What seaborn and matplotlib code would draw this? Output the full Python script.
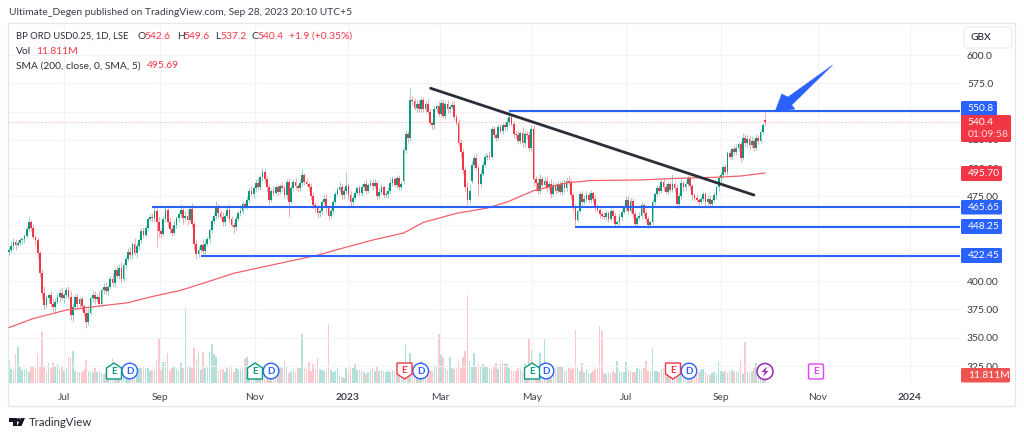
import matplotlib
matplotlib.use("Agg")
import matplotlib.pyplot as plt
import numpy as np
import pandas as pd
import seaborn as sns
from matplotlib.patches import FancyBboxPatch, Polygon, Circle, Rectangle
from matplotlib.transforms import Affine2D

# ---------- data ----------
closes = [
 428,431,435,432,434,436,437,440,446,452, 447,439,436,425,407,390,379,385,388,380,
 377,382,386,390,385,388,392,386,370,377, 386,380,384,378,372,364,372,385,388,384,
 386,380,392,395,391,395,402,398,410,405, 412,402,414,420,426,423,433,425,431,436,
 444,441,447,455,457,456,462,452,444,442, 455,463,452,446,443,450,456,459,463,456,
 458,454,464,451,433,424,428,432,427,433, 437,445,453,458,466,460,457,452,458,463,
 455,450,448,455,460,462,468,466,472,480, 477,482,487,483,492,497,490,483,472,480,
 478,483,479,484,482,476,488,470,482,488, 484,482,487,494,488,486,483,475,467,465,
 460,462,470,473,465,458,462,470,477,481, 483,476,480,484,476,470,474,478,482,478,
 483,486,480,485,487,484,487,475,479,483, 476,477,480,487,490,485,491,483,486,516,
 530,527,560,559,553,557,552,560,552,557, 550,540,538,552,555,548,558,546,557,552,
 554,556,545,540,522,514,498,483,472,480, 503,509,500,486,495,503,510,511,510,535,
 529,527,536,533,538,536,541,545,539,530, 529,524,531,522,530,529,518,535,490,487,
 480,490,485,489,483,486,477,485,480,486, 479,487,482,489,487,476,465,454,462,477,
 470,473,476,472,478,473,465,463,459,458, 457,460,455,462,458,451,452,457,461,465,
 472,462,471,459,451,456,458,467,460,455, 450,452,470,477,482,480,488,483,479,486,
 481,486,482,468,475,487,483,486,491,484, 476,474,472,470,473,477,470,473,468,472,
 476,483,491,494,501,497,513,510,517,514, 518,521,509,527,522,526,520,524,518,527,
 524,532,538,540.4]
open_overrides = {0: 426, 179: 489, 210: 489, 343: 542.6}
upper_wick = [
 2,4,3,2,2,3,2,2,3,5, 2,3,2,3,2,4,6,3,2,3, 5,3,4,3,5,2,3,4,5,3, 3,4,2,3,2,3,4,2,4,3,
 3,5,2,3,4,2,3,5,2,4, 3,5,3,2,3,4,2,5,3,2, 3,4,3,2,2,3,4,3,5,3, 3,3,2,5,3,4,2,3,5,3,
 4,6,3,5,2,3,3,2,5,3, 2,2,3,3,5,2,3,4,2,4, 5,3,2,3,2,5,3,2,3,2, 4,2,3,4,2,3,2,3,3,2,
 4,2,3,2,4,3,2,3,3,2, 3,2,3,5,2,3,2,4,3,3, 3,2,2,3,4,2,3,2,3,2, 5,3,3,13,3,4,2,3,2,3,
 3,2,4,2,3,3,3,2,3,3, 2,3,3,4,3,2,2,3,3,3, 4,3,11,4,3,4,3,3,3,2, 4,3,2,3,2,4,2,3,2,3,
 2,3,3,3,3,4,3,3,5,6, 3,3,4,3,4,3,3,2,4,2, 2,2,3,3,2,3,3,6,2,3, 3,4,2,5,3,3,4,3,3,3,
 4,5,3,3,4,3,4,3,3,3, 3,2,3,3,5,3,3,3,2,3, 3,3,4,3,3,2,3,3,2,3, 3,3,2,3,2,3,2,3,3,2,
 3,3,3,3,3,2,3,3,2,3, 3,2,3,2,3,3,2,3,3,2, 3,9,3,4,3,3,2,3,3,2, 2,2,3,2,2,3,2,3,3,2,
 3,2,3,3,2,3,2,3,2,3, 3,2,3,4,3,3,3,4,3,3, 2,3,2,7]
lower_wick = [
 3,2,3,4,2,2,3,3,2,2, 3,2,4,5,3,6,4,3,4,3, 3,5,2,4,2,4,3,2,4,5, 2,3,3,4,3,5,3,2,3,4,
 2,3,2,3,2,4,2,3,3,2, 3,4,2,3,2,3,3,2,4,3, 2,3,2,3,2,4,3,22,5,4, 2,3,4,3,3,2,3,4,2,5,
 3,4,2,3,5,4,3,2,4,3, 2,3,2,2,3,4,2,3,3,2, 3,2,5,3,2,2,3,2,2,3, 2,3,3,2,2,3,3,3,4,2,
 3,2,3,2,3,2,3,13,2,2, 3,3,2,3,3,2,3,3,2,4, 4,3,3,2,4,4,2,3,2,2, 2,3,3,3,3,4,3,2,2,3,
 3,2,3,2,2,3,2,3,2,2, 2,2,3,2,3,2,3,2,2,3, 3,5,3,3,2,3,2,2,2,3, 2,2,3,3,2,2,3,2,3,3,
 3,2,3,2,3,4,3,3,5,4, 2,3,2,11,3,2,2,3,3,2, 2,3,2,2,3,3,2,3,2,3, 2,3,3,3,3,3,3,3,6,7,
 3,3,2,3,3,2,3,2,3,2, 2,3,3,2,2,3,3,4,2,2, 3,2,3,2,3,3,3,2,3,2, 2,3,3,2,3,3,3,2,3,2,
 3,3,2,3,3,3,2,3,2,3, 3,2,2,3,2,3,2,3,2,3, 2,2,3,3,3,2,3,2,2,3, 3,3,3,3,2,2,3,3,3,2,
 2,3,3,3,3,2,3,2,3,2, 2,3,4,2,3,3,3,2,3,2, 3,2,2,3.2]
volumes = [
 47,28,27,58,73,33,27,26,28,22,35,33,28,58,33,102,33,24,40,30,
 40,35,38,28,33,25,30,53,53,65,25,23,22,22,27,47,24,22,23,30,
 23,25,20,18,22,15,28,51,35,35,23,30,30,28,30,30,30,28,30,30,
 30,32,30,30,25,26,27,47,88,26,43,43,60,25,30,32,28,25,40,30,
 150,33,32,30,70,47,60,27,62,30,33,63,78,59,52,25,28,28,22,30,
 28,33,23,30,28,28,30,48,52,25,30,30,28,30,30,30,33,27,33,33,
 30,28,27,35,30,47,35,20,25,27,22,30,30,99,30,28,42,25,38,28,
 50,28,27,25,24,118,27,23,25,30,17,12,10,30,26,35,30,38,27,26,
 25,22,18,22,27,30,25,33,25,27,25,23,25,22,27,25,17,40,30,30,
 77,27,60,30,35,28,30,45,20,25,28,27,25,37,33,98,57,51,30,27,
 53,30,28,30,45,30,53,65,177,45,32,60,33,38,33,38,33,35,30,26,
 35,40,28,38,40,40,38,30,27,24,25,30,28,22,38,35,89,67,28,24,
 27,60,30,90,28,38,30,33,30,35,33,35,27,24,30,28,30,107,30,24,
 41,22,28,20,20,24,28,30,115,105,20,18,23,20,25,20,45,25,22,23,
 43,27,24,22,22,30,28,26,30,45,24,25,70,24,25,22,28,30,33,22,
 20,22,27,20,22,25,20,18,22,17,20,25,16,22,27,28,22,16,17,20,
 22,18,45,25,22,24,20,25,27,23,22,23,48,18,83,24,22,25,30,40,27,20,16,12]
volumes = volumes[:len(closes)]

sma_bars = [0,11,26,41,54,64,78,87,102,117,140,150,165,179,188,203,217,226,238,253,264,286,304,322,332,343]
sma_vals = [359,367,374.5,378,381,386,392,397.5,407,413.4,423,428.5,436.4,442.6,452,460,464.7,470,480,487,489,489.5,491,492,493,495.7]

levels_price = [550.8, 465.65, 448.25, 422.45]
levels_start = [227, 65, 257, 87]
trend_bars = [191.3, 338]
trend_prices = [570.6, 476.2]

price_ticks = [600,575,550,525,500,475,450,425,400,375,350,325]
price_tick_labels = ["600.0","575.0","","525.00","500.00","475.00","","","400.00","375.00","350.00","325.00"]
month_ticks = [25,68.5,111.6,153.8,195.6,237.3,280,323,367,408.8]
month_labels = ["Jul","Sep","Nov","2023","Mar","May","Jul","Sep","Nov","2024"]

UP, DOWN = "#089981", "#F23645"
BLUE = "#2962FF"
INK = "#131722"
W, H = 1024, 437
FS = 7.4

sns.set_theme(style="white")
plt.rcParams["font.family"] = ["Lato", "DejaVu Sans"]

n = len(closes)
df = pd.DataFrame({"bar": np.arange(n), "close": closes,
                   "hi_w": upper_wick, "lo_w": lower_wick, "vol": volumes})
df["open"] = df["close"].shift(1)
for k, v in open_overrides.items():
    df.loc[k, "open"] = v
df["top"] = df[["open", "close"]].max(axis=1)
df["bot"] = df[["open", "close"]].min(axis=1)
df["dir"] = np.where(df["close"] >= df["open"], "up", "down")

fig = plt.figure(figsize=(W/100, H/100), dpi=100, facecolor="white")
L, R, TOP, BOT = 8, 960, 23, 383
axv = fig.add_axes([L/W, 1-BOT/H, (R-L)/W, (BOT-TOP)/H])
ax = axv.twinx()
ax.set_zorder(axv.get_zorder()+1)
ax.patch.set_visible(False)

# volume
sns.barplot(data=df, x="bar", y="vol", hue="dir", native_scale=True, dodge=False, legend=False,
            palette={"up": "#B2E1D9", "down": "#FCC8CB"}, width=0.72, saturation=1, ax=axv, linewidth=0)
axv.set_ylim(0, 720)
axv.set_yticks([])
axv.set_ylabel("")
axv.set_xlabel("")

# candles
for d, col in (("up", UP), ("down", DOWN)):
    s = df[df["dir"] == d]
    ax.vlines(s["bar"], s["bot"]-s["lo_w"], s["top"]+s["hi_w"], color=col, lw=0.6, alpha=0.5, zorder=3)
    ax.bar(s["bar"], (s["top"]-s["bot"]).clip(lower=0.6), bottom=s["bot"], width=0.8, color=col, lw=0, zorder=4)

# SMA
sns.lineplot(x=sma_bars, y=sma_vals, color="#F2606B", lw=0.9, ax=ax, zorder=5, errorbar=None, sort=False)

# last price
ax.axhline(closes[-1], color=DOWN, lw=0.6, ls=(0, (1, 2)), alpha=0.55, zorder=2)

# levels and trend line
xl = (-0.45, 431.5)
for p, s in zip(levels_price, levels_start):
    ax.hlines(p, s, xl[1], color=BLUE, lw=1.5, zorder=6)
ax.plot(trend_bars, trend_prices, color="#2A2E39", lw=2.0, zorder=6, solid_capstyle="round")

ax.set_xlim(*xl)
axv.set_xlim(*xl)
ax.set_ylim(310, 628.3)
ax.set_ylabel("")
ax.set_yticks(price_ticks)
ax.set_yticklabels(price_tick_labels, fontsize=FS, color=INK, alpha=0.85)
ax.tick_params(axis="y", length=0, pad=5)
axv.set_xticks(month_ticks)
axv.set_xticklabels(month_labels, fontsize=FS, color=INK, alpha=0.8)
axv.tick_params(axis="x", length=0, pad=7)
for t in axv.get_xticklabels():
    if t.get_text() in ("2023", "2024"):
        t.set_fontweight("bold")
ax.grid(True, axis="y", color="#F2F3F6", lw=0.8, zorder=0)
axv.grid(True, axis="x", color="#F2F3F6", lw=0.8, zorder=0)
ax.set_axisbelow(True); axv.set_axisbelow(True)
for a in (ax, axv):
    for sp in a.spines.values():
        sp.set_visible(False)

# ---------- page furniture in reference pixel space ----------
T = Affine2D().scale(1, -1).translate(0, H)
def txt(x, y, s, color=INK, size=FS, **kw):
    kw.setdefault("va", "center"); kw.setdefault("ha", "left")
    fig.text(x/W, 1-y/H, s, color=color, fontsize=size, zorder=30, **kw)
def add(p):
    p.set_transform(T)
    fig.add_artist(p)

add(Rectangle((8, 23), 1007, 383, fill=False, ec="#E4E6EC", lw=0.9, zorder=1))
txt(9, 12.5, "Ultimate_Degen published on TradingView.com, Sep 28, 2023 20:10 UTC+5", color="#3a3e4a")
y1 = 36.5
txt(15.5, y1, "BP ORD USD0.25, 1D, LSE", color="#2a2e39", size=6.8)
for x, lab, val in [(137.7, "O", "542.6"), (176.7, "H", "549.6"), (215, "L", "537.2"), (251, "C", "540.4")]:
    txt(x, y1, lab, color="#2a2e39")
    txt(x+(6.6 if lab != "L" else 5), y1, val, color=DOWN)
txt(289, y1, "+1.9 (+0.35%)", color=DOWN)
txt(15.5, 51, "Vol", color="#2a2e39"); txt(36, 51, "11.811M", color=DOWN)
txt(15.5, 66, "SMA (200, close, 0, SMA, 5)", color="#2a2e39"); txt(146.7, 66, "495.69", color=DOWN)

# scale boxes
boxes = [(961, 997, 101, 116, BLUE, ["550.8"]),
         (961, 1011, 115, 142, DOWN, ["540.4", "01:09:58"]),
         (961, 1002, 166, 181, DOWN, ["495.70"]),
         (961, 1002, 200, 214.5, BLUE, ["465.65"]),
         (961, 1002, 219, 234, BLUE, ["448.25"]),
         (961, 1002, 248, 263, BLUE, ["422.45"]),
         (961, 1010, 368, 382.5, "#EF5350", ["11.811M"])]
for x0, x1, y0, y1_, c, labs in boxes:
    add(FancyBboxPatch((x0+1, y0+1), x1-x0-2, y1_-y0-2, boxstyle="round,pad=1,rounding_size=1.5", fc=c, ec=c, lw=0, zorder=20))
    if len(labs) == 1:
        txt(967.7, (y0+y1_)/2, labs[0], color="white")
    else:
        txt(967.7, y0+7.5, labs[0], color="white")
        txt(967.7, y0+19.5, labs[1], color="#FFD9DC")

# GBX button
add(FancyBboxPatch((965, 28), 46, 19, boxstyle="round,pad=1,rounding_size=3", fc="white", ec="#E8EAEF", lw=0.8, zorder=20))
txt(981, 37.5, "GBX", color=INK, ha="center")

# arrow
add(Polygon([(832.7,65),(788,97),(781.7,94),(775,111.7),(795,109),(791.7,105)], closed=True, fc=BLUE, ec=BLUE, lw=0.3, zorder=21))

# event markers
def e_marker(cx, cy, col, up=True):
    s = 1 if up else -1
    pts = [(cx-7.5, cy+s*8), (cx+7.5, cy+s*8), (cx+7.5, cy-s*3), (cx, cy-s*8), (cx-7.5, cy-s*3)]
    add(Polygon(pts, closed=True, fc="white", ec=col, lw=1.0, zorder=12))
    txt(cx, cy+0.5*s, "E", color=col, ha="center", size=7.2, fontweight="bold")
def d_marker(cx, cy):
    add(Circle((cx, cy), 7.8, fc="white", ec=BLUE, lw=1.0, zorder=11))
    txt(cx, cy, "D", color=BLUE, ha="center", size=7.2, fontweight="bold")
for cx, col, up in [(114, UP, True), (255, UP, True), (404.5, DOWN, False), (532, UP, True), (673, DOWN, False)]:
    e_marker(cx, 371, col, up)
for cx in (129.7, 271, 420.7, 546, 689):
    d_marker(cx, 371)
add(Circle((765, 371.5), 8, fc="white", ec="#9C27B0", lw=1.1, zorder=12))
add(Polygon([(767,366.5),(761.5,372),(764.7,372),(763,376.5),(768.5,371),(765.3,371)], closed=True, fc="#9C27B0", ec="none", zorder=13))
add(FancyBboxPatch((809, 364.5), 14, 14, boxstyle="round,pad=0.5,rounding_size=1.5", fc="white", ec="#E040FB", lw=1.0, zorder=12))
txt(816, 371.7, "E", color="#E040FB", ha="center", size=7.2, fontweight="bold")

# logo
for pts in ([(8.5,418),(16.5,418),(16.5,426),(12.5,426),(12.5,422),(8.5,422)],
            [(21,418),(25,418),(21.5,426),(17,426)]):
    add(Polygon(pts, closed=True, fc="#131722", ec="none", zorder=12))
add(Circle((18.7,420), 1.9, fc="#131722", ec="none", zorder=12))
txt(29, 422, "TradingView", color="#2a2e39", size=8.2)

fig.savefig("out.png", dpi=100)
